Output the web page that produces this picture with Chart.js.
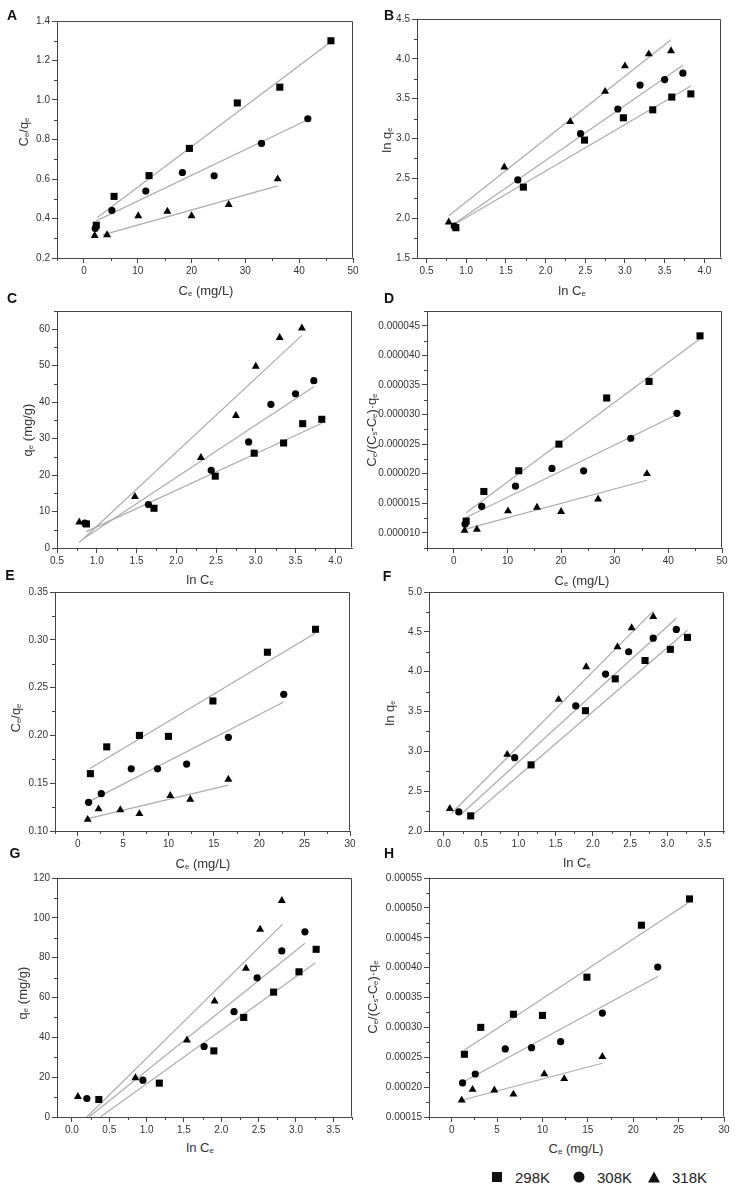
<!DOCTYPE html>
<html>
<head>
<meta charset="utf-8">
<script src="https://cdn.jsdelivr.net/npm/chart.js@4.4.1/dist/chart.umd.min.js"></script>
<style>
  html, body { margin: 0; padding: 0; background: #fff; }
  #page { position: relative; width: 737px; height: 1198px; overflow: hidden;
          font-family: "Liberation Sans", Arial, sans-serif; color: #333; }
  #page canvas { position: absolute; }
  .let { position: absolute; font-size: 14px; font-weight: bold; color: #111; transform: translate(-50%, -50%); }
  .xt, .yt { position: absolute; font-size: 13px; white-space: nowrap; color: #333; }
  .xt { transform: translate(-50%, -50%); }
  .yt { transform: translate(-50%, -50%) rotate(-90deg); }
  sub { font-size: 0.6em; vertical-align: -0.25em; line-height: 0; }
  .leg { position: absolute; font-size: 15px; color: #222; transform: translateY(-50%); }
  .mk { position: absolute; background: #111; transform: translate(-50%, -50%); }
</style>
</head>
<body>
<div id="page"></div>
<script>
// Ce (mg/L) and ln Ce, first data set (panels A-D)
const ce1_298 = [2.3, 5.6, 12.1, 19.6, 28.5, 36.4, 45.9];
const ce1_308 = [2.1, 5.2, 11.5, 18.3, 24.2, 33.0, 41.6];
const ce1_318 = [2.0, 4.3, 10.1, 15.5, 20.0, 26.9, 36.0];
const ln1_298 = [0.87, 1.72, 2.49, 2.98, 3.35, 3.59, 3.83];
const ln1_308 = [0.85, 1.65, 2.44, 2.91, 3.19, 3.50, 3.73];
const ln1_318 = [0.78, 1.48, 2.31, 2.75, 3.00, 3.30, 3.58];

// Ce (mg/L) and ln Ce, second data set (panels E-H)
const ce2_298 = [1.4, 3.2, 6.8, 10.0, 14.9, 20.9, 26.2];
const ce2_308 = [1.2, 2.6, 5.9, 8.8, 12.0, 16.6, 22.7];
const ce2_318 = [1.1, 2.3, 4.7, 6.8, 10.2, 12.4, 16.6];
const ln2_298 = [0.36, 1.17, 1.90, 2.30, 2.70, 3.04, 3.27];
const ln2_308 = [0.20, 0.95, 1.77, 2.17, 2.48, 2.81, 3.12];
const ln2_318 = [0.08, 0.85, 1.54, 1.91, 2.33, 2.52, 2.81];

// y values per panel
const a298 = [0.366, 0.512, 0.617, 0.755, 0.985, 1.065, 1.30];
const a308 = [0.35, 0.441, 0.539, 0.633, 0.616, 0.78, 0.905];
const a318 = [0.313, 0.317, 0.413, 0.436, 0.413, 0.47, 0.60];
const b298 = [1.88, 2.39, 2.98, 3.26, 3.36, 3.52, 3.56];
const b308 = [1.90, 2.48, 3.06, 3.37, 3.67, 3.74, 3.82];
const b318 = [1.95, 2.64, 3.21, 3.59, 3.91, 4.06, 4.10];
const c298 = [6.6, 10.9, 19.7, 26.0, 28.8, 34.1, 35.3];
const c308 = [6.8, 11.9, 21.3, 29.1, 39.4, 42.3, 45.9];
const c318 = [7.1, 14.1, 24.8, 36.3, 49.8, 57.7, 60.3];
const d298 = [12.0e-6, 17.0e-6, 20.5e-6, 25.0e-6, 32.8e-6, 35.6e-6, 43.3e-6];
const d308 = [11.5e-6, 14.5e-6, 17.9e-6, 20.9e-6, 20.5e-6, 26.0e-6, 30.2e-6];
const d318 = [10.4e-6, 10.6e-6, 13.7e-6, 14.3e-6, 13.6e-6, 15.7e-6, 20.0e-6];
const e298 = [0.160, 0.188, 0.200, 0.199, 0.236, 0.287, 0.311];
const e308 = [0.130, 0.139, 0.165, 0.165, 0.170, 0.198, 0.243];
const e318 = [0.112, 0.123, 0.122, 0.118, 0.137, 0.133, 0.154];
const f298 = [2.19, 2.83, 3.51, 3.91, 4.14, 4.28, 4.43];
const f308 = [2.24, 2.92, 3.57, 3.97, 4.25, 4.42, 4.53];
const f318 = [2.28, 2.96, 3.65, 4.06, 4.31, 4.55, 4.69];
const g298 = [8.8, 17.0, 33.2, 50.0, 62.7, 72.9, 84.2];
const g308 = [9.3, 18.5, 35.4, 52.9, 69.9, 83.4, 93.0];
const g318 = [10.2, 19.6, 38.6, 58.2, 74.6, 94.2, 108.6];
const h298 = [0.000255, 0.000300, 0.000322, 0.000320, 0.000384, 0.000471, 0.000515];
const h308 = [0.000207, 0.000222, 0.000264, 0.000266, 0.000276, 0.000324, 0.000401];
const h318 = [0.000178, 0.000196, 0.000195, 0.000188, 0.000222, 0.000214, 0.000251];

// fitted lines, read as [start, end]
const aFitX298 = [2.5, 45.9], aFitY298 = [0.405, 1.295];
const aFitX308 = [2.3, 41.6], aFitY308 = [0.388, 0.90];
const aFitX318 = [3.5, 36.0], aFitY318 = [0.317, 0.565];
const bFitX298 = [0.85, 3.83], bFitY298 = [1.92, 3.66];
const bFitX308 = [0.85, 3.73], bFitY308 = [1.93, 3.92];
const bFitX318 = [0.78, 3.58], bFitY318 = [2.03, 4.24];
const cFitX298 = [0.87, 3.83], cFitY298 = [4.5, 34.2];
const cFitX308 = [0.85, 3.73], cFitY308 = [2.8, 44.2];
const cFitX318 = [0.78, 3.58], cFitY318 = [1.5, 58.3];
const dFitX298 = [2.3, 45.9], dFitY298 = [13.4e-6, 42.8e-6];
const dFitX308 = [2.3, 41.6], dFitY308 = [12.6e-6, 30.0e-6];
const dFitX318 = [2.0, 36.0], dFitY318 = [10.6e-6, 18.9e-6];
const eFitX298 = [1.3, 26.2], eFitY298 = [0.165, 0.307];
const eFitX308 = [1.3, 22.7], eFitY308 = [0.131, 0.235];
const eFitX318 = [1.1, 16.6], eFitY318 = [0.113, 0.148];
const fFitX298 = [0.40, 3.27], fFitY298 = [2.21, 4.52];
const fFitX308 = [0.22, 3.12], fFitY308 = [2.20, 4.67];
const fFitX318 = [0.10, 2.81], fFitY318 = [2.22, 4.76];
const gFitX298 = [0.38, 3.26], gFitY298 = [0, 77.5];
const gFitX308 = [0.23, 3.12], gFitY308 = [0, 87.2];
const gFitX318 = [0.20, 2.82], gFitY318 = [0, 96.7];
const hFitX298 = [1.4, 26.2], hFitY298 = [0.000262, 0.000510];
const hFitX308 = [1.3, 22.7], hFitY308 = [0.000209, 0.000385];
const hFitX318 = [1.1, 16.6], hFitY318 = [0.000178, 0.000240];

const page = document.getElementById('page');
const PAD_T = 10, PAD_R = 14, XH = 22;
const AXIS = '#444', FIT = '#ababab', TICKTXT = '#333';
const RADII = { rect: 5, circle: 3.6, triangle: 4.6 };

function pts(xs, ys) {
  return xs.map((x, i) => ({ x: x, y: ys[i] }));
}

// closes the box and adds the small in-between ticks
const frameTicks = {
  id: 'frameTicks',
  afterDraw(chart) {
    const { ctx, chartArea: a } = chart;
    ctx.save();
    ctx.strokeStyle = AXIS;
    ctx.lineWidth = 1;
    const l = Math.round(a.left) + 0.5, r = Math.round(a.right) - 0.5;
    const t = Math.round(a.top) + 0.5, b = Math.round(a.bottom) - 0.5;
    ctx.beginPath();
    ctx.moveTo(l, t); ctx.lineTo(r, t); ctx.lineTo(r, b);
    ['x', 'y'].forEach(id => {
      const s = chart.scales[id];
      const vals = s.ticks.map(tk => tk.value);
      if (vals.length < 2) return;
      const step = vals[1] - vals[0];
      const minors = [vals[0] - step / 2].concat(vals.map(v => v + step / 2));
      minors.forEach(v => {
        if (v < s.min || v > s.max) return;
        const p = Math.round(s.getPixelForValue(v)) + 0.5;
        if (id === 'x') { ctx.moveTo(p, a.bottom); ctx.lineTo(p, a.bottom + 3); }
        else { ctx.moveTo(a.left - 3, p); ctx.lineTo(a.left, p); }
      });
    });
    ctx.stroke();
    ctx.restore();
  }
};

function axis(pos, r, size) {
  return {
    type: 'linear', position: pos, min: r[0], max: r[1],
    afterFit: s => { if (pos === 'left') s.width = size; else s.height = size; },
    ticks: {
      stepSize: r[2], includeBounds: false, autoSkip: false, maxRotation: 0,
      color: TICKTXT, padding: 2,
      font: { family: 'Liberation Sans', size: 10 },
      callback: v => Number(v).toFixed(r[3])
    },
    grid: { drawOnChartArea: false, drawTicks: true, tickLength: 5, color: AXIS, tickColor: AXIS },
    border: { color: AXIS, width: 1 }
  };
}

function panel(box, yw, xr, yr, series) {
  const [L, T, R, B] = box;
  const w = R - L + yw + PAD_R, h = B - T + PAD_T + XH;
  const cv = document.createElement('canvas');
  cv.width = w; cv.height = h;
  cv.style.left = (L - yw) + 'px';
  cv.style.top = (T - PAD_T) + 'px';
  page.appendChild(cv);
  const datasets = [];
  series.forEach(s => {
    datasets.push({ data: pts(s[2], s[3]), showLine: true, borderColor: FIT, borderWidth: 1.2,
                    pointRadius: 0, order: 2 });
    datasets.push({ data: pts(s[0], s[1]), showLine: false, pointStyle: s[4], pointRadius: RADII[s[4]],
                    pointBackgroundColor: '#000', pointBorderColor: '#000', pointBorderWidth: 0, order: 1 });
  });
  new Chart(cv, {
    type: 'scatter',
    data: { datasets: datasets },
    options: {
      responsive: false, animation: false, events: [],
      layout: { padding: { top: PAD_T, right: PAD_R, left: 0, bottom: 0 } },
      plugins: { legend: { display: false }, tooltip: { enabled: false } },
      scales: { x: axis('bottom', xr, XH), y: axis('left', yr, yw) }
    },
    plugins: [frameTicks]
  });
}

panel([57, 21, 353, 258], 42, [-5, 50, 10, 0], [0.2, 1.4, 0.2, 1], [
  [ce1_298, a298, aFitX298, aFitY298, 'rect'],
  [ce1_308, a308, aFitX308, aFitY308, 'circle'],
  [ce1_318, a318, aFitX318, aFitY318, 'triangle']]);
panel([417, 19, 721, 258], 42, [0.38, 4.21, 0.5, 1], [1.5, 4.5, 0.5, 1], [
  [ln1_298, b298, bFitX298, bFitY298, 'rect'],
  [ln1_308, b308, bFitX308, bFitY308, 'circle'],
  [ln1_318, b318, bFitX318, bFitY318, 'triangle']]);
panel([57, 311, 352, 548], 42, [0.5, 4.21, 0.5, 1], [0, 65, 10, 0], [
  [ln1_298, c298, cFitX298, cFitY298, 'rect'],
  [ln1_308, c308, cFitX308, cFitY308, 'circle'],
  [ln1_318, c318, cFitX318, cFitY318, 'triangle']]);
panel([427, 311, 722, 548], 56, [-5, 50, 10, 0], [7.45e-6, 47.5e-6, 5e-6, 6], [
  [ce1_298, d298, dFitX298, dFitY298, 'rect'],
  [ce1_308, d308, dFitX308, dFitY308, 'circle'],
  [ce1_318, d318, dFitX318, dFitY318, 'triangle']]);
panel([55, 592, 350, 831], 42, [-2.5, 30, 5, 0], [0.10, 0.35, 0.05, 2], [
  [ce2_298, e298, eFitX298, eFitY298, 'rect'],
  [ce2_308, e308, eFitX308, eFitY308, 'circle'],
  [ce2_318, e318, eFitX318, eFitY318, 'triangle']]);
panel([429, 592, 724, 831], 42, [-0.2, 3.76, 0.5, 1], [2.0, 5.0, 0.5, 1], [
  [ln2_298, f298, fFitX298, fFitY298, 'rect'],
  [ln2_308, f308, fFitX308, fFitY308, 'circle'],
  [ln2_318, f318, fFitX318, fFitY318, 'triangle']]);
panel([57, 878, 352, 1117], 42, [-0.2, 3.75, 0.5, 1], [0, 120, 20, 0], [
  [ln2_298, g298, gFitX298, gFitY298, 'rect'],
  [ln2_308, g308, gFitX308, gFitY308, 'circle'],
  [ln2_318, g318, gFitX318, gFitY318, 'triangle']]);
panel([429, 878, 724, 1117], 56, [-2.5, 30, 5, 0], [0.00015, 0.00055, 0.00005, 5], [
  [ce2_298, h298, hFitX298, hFitY298, 'rect'],
  [ce2_308, h308, hFitX308, hFitY308, 'circle'],
  [ce2_318, h318, hFitX318, hFitY318, 'triangle']]);

// panel letters and axis titles
function put(cls, html, x, y) {
  const d = document.createElement('div');
  d.className = cls; d.innerHTML = html;
  d.style.left = x + 'px'; d.style.top = y + 'px';
  page.appendChild(d);
}
const CEQ = 'C<sub>e</sub>/q<sub>e</sub>';
const CEMG = 'C<sub>e</sub> (mg/L)';
const LNC = 'ln C<sub>e</sub>';
const LNQ = 'ln q<sub>e</sub>';
const QMG = 'q<sub>e</sub> (mg/g)';
const CSQ = 'C<sub>e</sub>/(C<sub>s</sub>-C<sub>e</sub>)·q<sub>e</sub>';

put('let', 'A', 12, 15);  put('let', 'B', 389, 15);
put('let', 'C', 12, 298); put('let', 'D', 389, 298);
put('let', 'E', 10, 575); put('let', 'F', 387, 576);
put('let', 'G', 15, 853); put('let', 'H', 389, 853);

put('yt', CEQ, 23, 132);   put('xt', CEMG, 206, 290);
put('yt', LNQ, 386, 140);  put('xt', LNC, 572, 290);
put('yt', QMG, 27, 430);   put('xt', LNC, 200, 579);
put('yt', CSQ, 371, 430);  put('xt', CEMG, 582, 580);
put('yt', CEQ, 15, 718);   put('xt', CEMG, 203, 863);
put('yt', LNQ, 389, 713);  put('xt', LNC, 577, 862);
put('yt', QMG, 22, 993);   put('xt', LNC, 200, 1147);
put('yt', CSQ, 372, 997);  put('xt', CEMG, 576, 1148);

// legend
function marker(shape, x, y) {
  const m = document.createElement('div');
  m.className = 'mk';
  m.style.left = x + 'px'; m.style.top = y + 'px';
  if (shape === 'rect') { m.style.width = '10px'; m.style.height = '10px'; }
  if (shape === 'circle') { m.style.width = '11px'; m.style.height = '11px'; m.style.borderRadius = '50%'; }
  if (shape === 'triangle') {
    m.style.width = '0'; m.style.height = '0'; m.style.background = 'none';
    m.style.borderLeft = '6px solid transparent'; m.style.borderRight = '6px solid transparent';
    m.style.borderBottom = '11px solid #111';
  }
  page.appendChild(m);
}
const legendNames = ['298K', '308K', '318K'];
const legendShapes = ['rect', 'circle', 'triangle'];
const legendX = [497, 579, 654];
legendNames.forEach((n, i) => {
  marker(legendShapes[i], legendX[i], 1177);
  put('leg', n, legendX[i] + 18, 1177);
});
</script>
</body>
</html>
